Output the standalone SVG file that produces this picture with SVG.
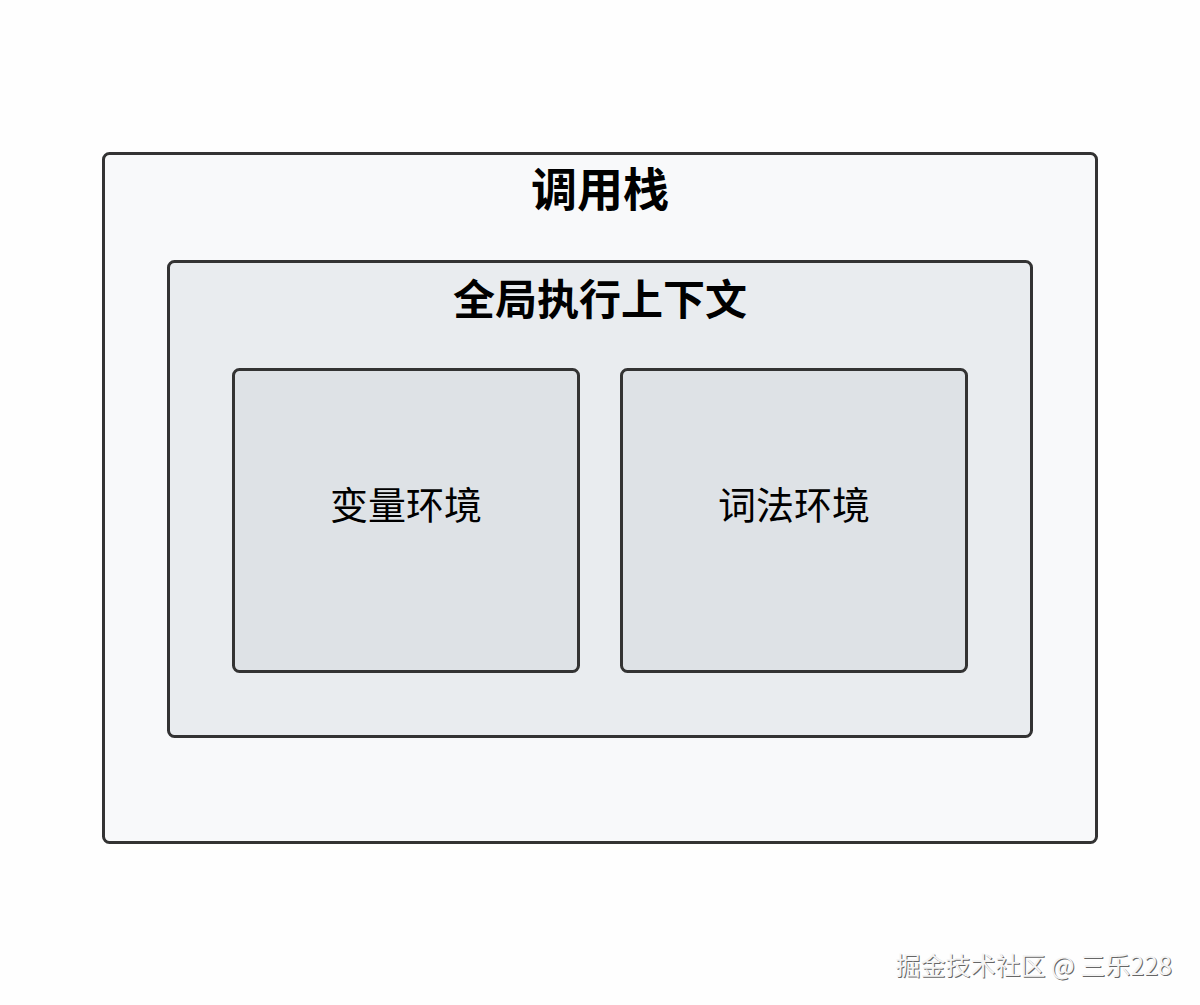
<svg xmlns="http://www.w3.org/2000/svg" width="1200" height="1005" viewBox="0 0 1200 1005">
<style>
.box{stroke:#333;stroke-width:3}
.t{font-family:"Noto Sans CJK SC","Noto Sans",sans-serif;fill:#000;text-anchor:middle}
.wm{font-family:"Noto Sans CJK SC","Liberation Sans",sans-serif;font-size:25px;text-anchor:end}
</style>
<rect width="1200" height="1005" fill="#fefefe"/>
<g id="callstack">
<rect class="box" x="103.5" y="153.5" width="993" height="689" rx="6" fill="#f8f9fa"/>
<text class="t" x="600" y="206" font-size="46" font-weight="bold">调用栈</text>
</g>
<g id="global-context">
<rect class="box" x="168.5" y="261.5" width="863" height="475" rx="6" fill="#e9ecef"/>
<text class="t" x="600" y="315" font-size="42" font-weight="bold">全局执行上下文</text>
</g>
<g id="variable-env">
<rect class="box" x="233.5" y="369.5" width="345" height="302" rx="6" fill="#dee2e6"/>
<text class="t" x="406" y="519" font-size="38">变量环境</text>
</g>
<g id="lexical-env">
<rect class="box" x="621.5" y="369.5" width="345" height="302" rx="6" fill="#dee2e6"/>
<text class="t" x="794" y="519" font-size="38">词法环境</text>
</g>
<g id="connectors"></g>
<g id="watermark">
<text class="wm" x="1173" y="976" fill="#666">掘金技术社区 @ 三乐228</text>
<text class="wm" x="1172" y="975" fill="#f4f4f4">掘金技术社区 @ 三乐228</text>
</g>
</svg>
